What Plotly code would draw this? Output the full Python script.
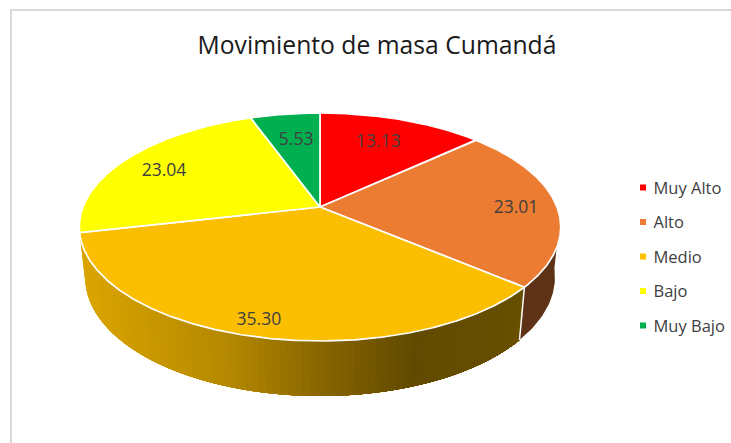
import numpy as np
import plotly.graph_objects as go

# ---- data ----
categories = ["Muy Alto", "Alto", "Medio", "Bajo", "Muy Bajo"]
values = [13.13, 23.01, 35.30, 23.04, 5.53]
value_labels = ["13.13", "23.01", "35.30", "23.04", "5.53"]
colors = ["#FF0000", "#ED7D31", "#FFC000", "#FFFF00", "#00B050"]

# ---- drawing style ----
W, H = 731, 443
CX, CY = 320.0, 207.0
RX, BY, K = 237.0, 110.5, 0.1754
top_colors = ["#FF0000", "#EC7C31", "#FCBE00", "#FFFF00", "#00B050"]
label_radius = [0.75, 0.83, 0.87, 0.80, 0.73]
label_turn = [-2, 0, 1, 0, 1]
LABEL_DY = 4
wall_shade = [(85, (218, 164, 0)), (230, (178, 134, 0)), (320, (135, 101, 0)),
              (410, (97, 73, 0)), (525, (104, 80, 0))]
ALTO_WALL = "#5E3216"


def project(theta_deg, f=1.0):
    t = np.radians(theta_deg)
    u, v = f * np.sin(t), -f * np.cos(t)
    s = 1 / (1 - K * v)
    return CX + RX * u * s, CY + BY * v * s


def project_low(theta_deg):
    x, y = project(theta_deg)
    v = -np.cos(np.radians(theta_deg))
    return CX + 0.976 * (x - CX), y + 49 + 6 * v


total = sum(values)
edges = np.concatenate([[0], np.cumsum(values)]) / total * 360

fig = go.Figure()


def poly(xs, ys, fill, line=None, width=0.0):
    fig.add_trace(go.Scatter(
        x=xs, y=ys, mode="lines", fill="toself", fillcolor=fill,
        line=dict(color=line or fill, width=width), hoverinfo="skip", showlegend=False))


def wall(a, b, fill):
    th = np.linspace(a, b, max(2, int(abs(b - a)) + 1))
    xt, yt = project(th)
    xb, yb = project_low(th)
    poly(np.r_[xt, xb[::-1]], np.r_[yt, yb[::-1]], fill)


def shade(x):
    xs = [p[0] for p in wall_shade]
    ch = [np.interp(x, xs, [p[1][i] for p in wall_shade]) for i in range(3)]
    return "rgb(%d,%d,%d)" % tuple(int(round(c)) for c in ch)


# side walls: second slice (dark) and third slice (gradient, painted over itself)
wall(96, edges[2], ALTO_WALL)
for a in np.arange(edges[3], edges[2], -1.5):
    wall(edges[2], a, shade(project(a)[0]))

# white seam between the two walls
x0, y0 = project(edges[2])
x1, y1 = project_low(edges[2])
fig.add_trace(go.Scatter(x=[x0, x1], y=[y0, y1], mode="lines",
                         line=dict(color="white", width=1.5),
                         hoverinfo="skip", showlegend=False))

# top slices
for i in range(len(values)):
    th = np.linspace(edges[i], edges[i + 1], int(values[i] * 12) + 2)
    xs, ys = project(th)
    poly(np.r_[CX, xs, CX], np.r_[CY, ys, CY], top_colors[i], "white", 1.7)

# value labels
mids = (edges[:-1] + edges[1:]) / 2
lx, ly = zip(*[project(m + d, f) for m, d, f in zip(mids, label_turn, label_radius)])
fig.add_trace(go.Scatter(
    x=lx, y=np.array(ly) + LABEL_DY, mode="text", text=value_labels,
    textposition="middle center",
    textfont=dict(family="Open Sans", size=17.5, color="#404040"),
    hoverinfo="skip", showlegend=False))

# legend
row_y = [187.5 + 34.5 * i for i in range(len(categories))]
fig.add_trace(go.Scatter(
    x=[643] * len(categories), y=row_y, mode="markers",
    marker=dict(symbol="square", size=6, color=colors),
    hoverinfo="skip", showlegend=False))
fig.add_trace(go.Scatter(
    x=[653.5] * len(categories), y=np.array(row_y) + 2, mode="text", text=categories,
    textposition="middle right",
    textfont=dict(family="Open Sans", size=16.5, color="#404040"),
    hoverinfo="skip", showlegend=False))

fig.update_layout(
    width=W, height=H, margin=dict(l=0, r=0, t=0, b=0),
    paper_bgcolor="white", plot_bgcolor="white", showlegend=False,
    title=dict(text="Movimiento de masa Cumandá", x=377 / W, y=1 - 45 / H,
               xanchor="center", yanchor="middle",
               font=dict(family="Open Sans", size=24.7, color="#1a1a1a")),
    xaxis=dict(range=[0, W], visible=False, fixedrange=True),
    yaxis=dict(range=[H, 0], visible=False, fixedrange=True),
    shapes=[
        dict(type="line", x0=11, x1=11, y0=10, y1=H, line=dict(color="#D9D9D9", width=2)),
        dict(type="line", x0=10, x1=W, y0=10, y1=10, line=dict(color="#D9D9D9", width=2)),
    ],
)

fig.write_html("out.html", config=dict(displayModeBar=False),
               post_script="document.body.style.margin='0';")
